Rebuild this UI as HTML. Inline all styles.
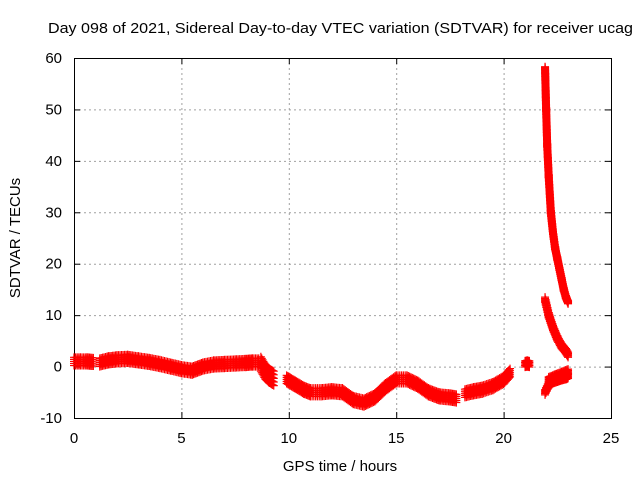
<!DOCTYPE html>
<html><head><meta charset="utf-8"><style>
body{margin:0;background:#fff}
svg text{font-family:"Liberation Sans",sans-serif;font-size:15px;fill:#000}
</style></head><body>
<svg id="c" width="640" height="480"></svg>
<script>
const xTicks=[0,5,10,15,20,25];
const yTicks=[-10,0,10,20,30,40,50,60];
const segHours=[
[0,0.3,0.6,0.9],
[1.2,1.6,2,2.5,3,3.5,4,4.5,5,5.5,6,6.5,7,7.5,8,8.3,8.6],
[8.7,8.9,9.1,9.3],
[9.9,10.3,10.7,11,11.5,12,12.5,13,13.5,14,14.5,15,15.5,16,16.5,17,17.5,17.8],
[18.2,18.6,19,19.5,20,20.3],
[21,21.1,21.2],
[21.93,21.98,22.03,22.1,22.2,22.3,22.4,22.5,22.6,22.7,22.8,22.9,23],
[21.93,22.1,22.3,22.5,22.7,22.9,23],
[21.93,22.1,22.3,22.5,22.7,22.9,23],
[22.1,22.4,22.7,23]
];
const segValues=[
[1,1,1,0.9],
[0.8,1.2,1.4,1.5,1.2,0.9,0.5,0,-0.5,-0.8,0,0.4,0.5,0.6,0.7,0.8,0.8],
[0.5,-1,-1.8,-2.3],
[-2.5,-3.5,-4.5,-5,-5,-4.8,-5,-6.5,-7,-6,-4,-2.5,-2.5,-3.5,-5,-5.8,-6,-6.2],
[-5.2,-4.8,-4.5,-3.8,-2.6,-1.2],
[0.5,0.6,0.5],
[58,50,43,37,30,26,23,21,19,17,15,13.5,12.5],
[13,10,7.5,5.5,4,3,2.3],
[-5,-3.5,-2.8,-2.5,-2.2,-2,-1.8],
[-2.5,-2,-1.5,-1]
];
const segSpread=[0.8,0.8,1.4,0.8,0.8,0.6,0.3,0.5,0.5,0.5];
const NS='http://www.w3.org/2000/svg';
const svg=document.getElementById('c');
const X0=74,X1=611,Y0=418,Y1=58;
const sx=v=>X0+(v-0)/(25-0)*(X1-X0);
const sy=v=>Y0-(v+10)/70*(Y0-Y1);
function mk(t,a,p){const e=document.createElementNS(NS,t);for(const k in a)e.setAttribute(k,a[k]);(p||svg).appendChild(e);return e;}
const grid=mk('g',{stroke:'#a0a0a0','stroke-dasharray':'2,3','stroke-width':1});


xTicks.forEach(t=>{if(t>0&&t<25)mk('line',{x1:sx(t)+.5,x2:sx(t)+.5,y1:Y1,y2:Y0},grid);});
yTicks.forEach(t=>{if(t>-10&&t<60)mk('line',{x1:X0,x2:X1,y1:sy(t)+.5,y2:sy(t)+.5},grid);});
const ax=mk('g',{stroke:'#000','stroke-width':1});


mk('rect',{x:X0+.5,y:Y1+.5,width:X1-X0,height:Y0-Y1,fill:'none'},ax);
xTicks.forEach(t=>{mk('line',{x1:sx(t)+.5,x2:sx(t)+.5,y1:Y0,y2:Y0-6},ax);mk('line',{x1:sx(t)+.5,x2:sx(t)+.5,y1:Y1,y2:Y1+6},ax);
 const tx=mk('text',{x:sx(t),y:Y0+25,'text-anchor':'middle'});tx.textContent=t;
 
 });
yTicks.forEach(t=>{mk('line',{x1:X0,x2:X0+6,y1:sy(t)+.5,y2:sy(t)+.5},ax);mk('line',{x1:X1,x2:X1-6,y1:sy(t)+.5,y2:sy(t)+.5},ax);
 const tx=mk('text',{x:X0-12,y:sy(t)+5,'text-anchor':'end'});tx.textContent=t;
 
 });
const pts=mk('g',{stroke:'#ff0000','stroke-width':1.2});


function plus(x,y){mk('path',{d:`M${x-4},${y}h8M${x},${y-4}v8`},pts);}
segHours.forEach((hs,i)=>{const vs=segValues[i],w=segSpread[i];
 for(let j=0;j<hs.length-1;j++){const n=Math.max(2,Math.ceil(Math.abs(sx(hs[j+1])-sx(hs[j]))/2)+Math.ceil(Math.abs(sy(vs[j+1])-sy(vs[j]))/4));
  for(let k=0;k<=n;k++){const f=k/n,h=hs[j]+(hs[j+1]-hs[j])*f,v=vs[j]+(vs[j+1]-vs[j])*f;
   for(let d=-w;d<=w+1e-6;d+=w/2)plus(sx(h),sy(v+d));}}
 if(hs.length==1)plus(sx(hs[0]),sy(vs[0]));});
const t1=mk('text',{x:48,y:33,textLength:585,lengthAdjust:'spacingAndGlyphs'});t1.textContent='Day 098 of 2021, Sidereal Day-to-day VTEC variation (SDTVAR) for receiver ucag';

const t2=mk('text',{x:340,y:471,'text-anchor':'middle'});t2.textContent='GPS time / hours';

const t3=mk('text',{x:20,y:238,'text-anchor':'middle',transform:'rotate(-90 20 238)'});t3.textContent='SDTVAR / TECUs';

</script>
</body></html>
